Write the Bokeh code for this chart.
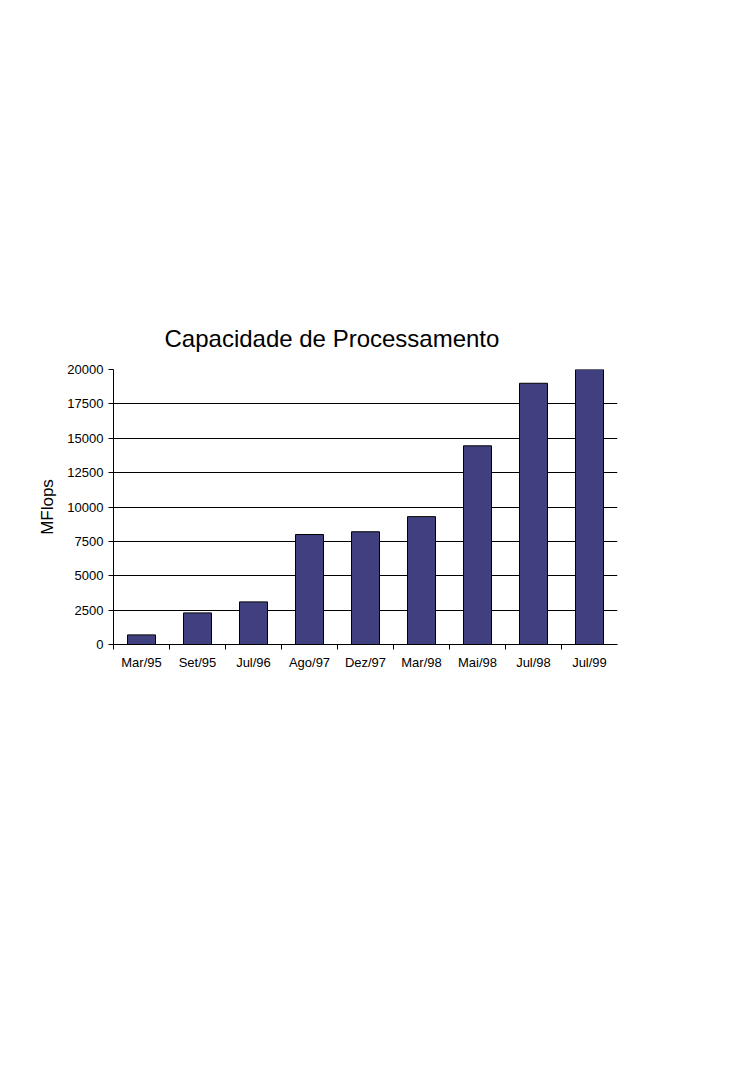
import numpy as np
from bokeh.plotting import figure
from bokeh.models import FixedTicker, ColumnDataSource
from bokeh.embed import file_html
from bokeh.resources import INLINE

categories = ["Mar/95", "Set/95", "Jul/96", "Ago/97", "Dez/97", "Mar/98", "Mai/98", "Jul/98", "Jul/99"]
mflops = [700, 2300, 3100, 8000, 8200, 9300, 14450, 19000, 20000]
y_ticks = [0, 2500, 5000, 7500, 10000, 12500, 15000, 17500, 20000]

n = len(categories)
centers = [i + 0.5 for i in range(n)]
src = ColumnDataSource(dict(x=centers, top=mflops, label=categories))

FONT = "Liberation Sans"

p = figure(width=736, height=720, output_backend="svg", toolbar_location=None,
           x_range=(0, n), y_range=(0, 20000),
           min_border_left=113, min_border_right=119, min_border_top=369, min_border_bottom=76,
           title="Capacidade de Processamento")
p.outline_line_color = None
p.background_fill_color = "white"
p.border_fill_color = "white"

p.title.text_font = FONT
p.title.text_font_size = "24px"
p.title.text_font_style = "normal"
p.title.text_color = "black"
p.title.align = "left"
p.title.offset = 51
p.title.standoff = 35

p.vbar(x="x", top="top", width=0.5, source=src, fill_color="#404080", line_color="black", line_width=1)

# x axis
p.xaxis.ticker = FixedTicker(ticks=centers, minor_ticks=list(range(n)))
p.xaxis.major_label_overrides = {c: lab for c, lab in zip(centers, categories)}
p.xaxis.major_tick_out = 0
p.xaxis.major_tick_in = 0
p.xaxis.minor_tick_out = 5
p.xaxis.minor_tick_in = 0
p.xaxis.minor_tick_line_color = "black"
p.xaxis.axis_line_color = "black"
p.xaxis.major_label_text_font = FONT
p.xaxis.major_label_text_font_size = "13px"
p.xaxis.major_label_text_color = "black"
p.xaxis.major_label_standoff = 5
p.xgrid.grid_line_color = None

# y axis
p.yaxis.ticker = FixedTicker(ticks=y_ticks)
p.yaxis.minor_tick_line_color = None
p.yaxis.major_tick_out = 5
p.yaxis.major_tick_in = 0
p.yaxis.major_tick_line_color = "black"
p.yaxis.axis_line_color = "black"
p.yaxis.major_label_text_font = FONT
p.yaxis.major_label_text_font_size = "13px"
p.yaxis.major_label_text_color = "black"
p.yaxis.major_label_standoff = 5
p.yaxis.axis_label = "MFlops"
p.yaxis.axis_label_text_font = FONT
p.yaxis.axis_label_text_font_size = "17px"
p.yaxis.axis_label_text_font_style = "normal"
p.yaxis.axis_label_text_color = "black"
p.yaxis.axis_label_standoff = 7
p.ygrid.grid_line_color = "black"
p.ygrid.grid_line_alpha = 1.0
p.ygrid.level = "underlay"

open("out.html", "w").write(file_html(p, INLINE))
